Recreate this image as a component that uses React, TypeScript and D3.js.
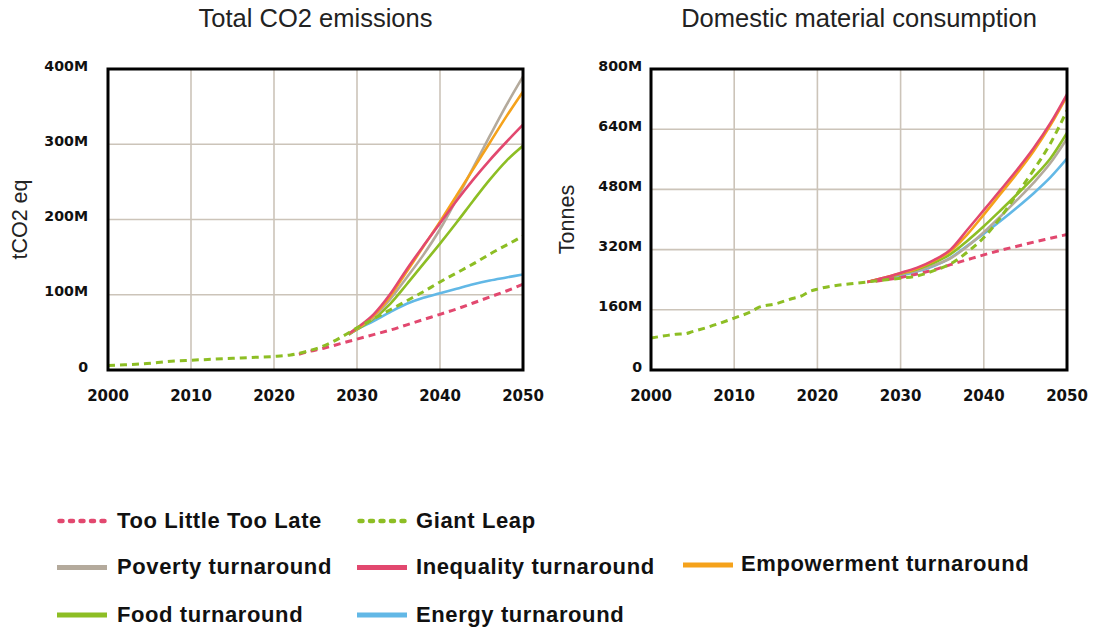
import React from "react";
import * as d3 from "d3";

// ---------- DATA ----------
const xTickYears = [2000, 2010, 2020, 2030, 2040, 2050];
const co2TickValues = [0, 100, 200, 300, 400];
const co2TickLabels = ["0", "100M", "200M", "300M", "400M"];
const dmcTickValues = [0, 160, 320, 480, 640, 800];
const dmcTickLabels = ["0", "160M", "320M", "480M", "640M", "800M"];

// Total CO2 emissions (M tCO2 eq)
const co2GiantLeapYears = [2000, 2002, 2004, 2006, 2008, 2010, 2012, 2014, 2016, 2018, 2020, 2022, 2024, 2026, 2028, 2030, 2032, 2034, 2036, 2038, 2040, 2042, 2044, 2046, 2048, 2050];
const co2GiantLeap = [6, 7, 8, 10, 12, 13, 14, 15, 16, 17, 18, 20, 25, 32, 43, 56, 68, 80, 92, 104, 117, 129, 141, 154, 166, 178];
const co2TooLittleYears = [2023, 2024, 2026, 2028, 2030, 2032, 2034, 2036, 2038, 2040, 2042, 2044, 2046, 2048, 2050];
const co2TooLittle = [21, 24, 29, 35, 41, 47, 53, 60, 67, 74, 81, 89, 97, 105, 114];
const co2TurnYears = [2029, 2030, 2032, 2034, 2036, 2038, 2040, 2042, 2044, 2046, 2048, 2050];
const co2Poverty = [48, 55, 70, 94, 123, 153, 187, 227, 269, 311, 352, 390];
const co2Inequality = [48, 56, 74, 101, 134, 165, 195, 225, 253, 279, 303, 326];
const co2Empowerment = [48, 55, 72, 98, 131, 164, 197, 232, 267, 302, 337, 370];
const co2Food = [47, 54, 68, 88, 114, 141, 168, 196, 225, 253, 278, 298];
const co2Energy = [47, 54, 65, 77, 88, 96, 102, 108, 114, 119, 123, 127];

// Domestic material consumption (M tonnes)
const dmcGiantLeapYears = [2000, 2002, 2003, 2004, 2005, 2007, 2010, 2012, 2013, 2015, 2017, 2018, 2019, 2020, 2022, 2024, 2026, 2028, 2030, 2032, 2034, 2036, 2038, 2040, 2042, 2044, 2046, 2048, 2050];
const dmcGiantLeap = [85, 92, 95, 96, 102, 115, 138, 155, 167, 176, 190, 196, 208, 215, 224, 229, 234, 239, 244, 250, 264, 282, 313, 352, 405, 468, 532, 602, 690];
const dmcTooLittleYears = [2027, 2028, 2030, 2032, 2034, 2036, 2038, 2040, 2042, 2044, 2046, 2048, 2050];
const dmcTooLittle = [236, 239, 246, 255, 266, 280, 293, 306, 318, 329, 340, 350, 360];
const dmcTurnYears = [2026, 2028, 2030, 2032, 2034, 2036, 2038, 2040, 2042, 2044, 2046, 2048, 2050];
const dmcPoverty = [234, 243, 254, 264, 278, 297, 328, 366, 408, 452, 498, 550, 615];
const dmcInequality = [234, 245, 258, 272, 292, 320, 372, 425, 478, 532, 590, 656, 733];
const dmcEmpowerment = [234, 245, 257, 270, 290, 316, 360, 413, 468, 523, 582, 650, 728];
const dmcFood = [234, 244, 256, 268, 285, 308, 343, 382, 424, 467, 512, 562, 630];
const dmcEnergy = [234, 242, 251, 262, 276, 298, 330, 362, 396, 432, 470, 512, 562];

const scenarioNames = [
  "Too Little Too Late",
  "Giant Leap",
  "Poverty turnaround",
  "Inequality turnaround",
  "Empowerment turnaround",
  "Food turnaround",
  "Energy turnaround",
];

// ---------- STYLES ----------
const COLORS: Record<string, string> = {
  "Too Little Too Late": "#E2486F",
  "Giant Leap": "#8DBE24",
  "Poverty turnaround": "#B4AA9C",
  "Inequality turnaround": "#E2486F",
  "Empowerment turnaround": "#F5A21B",
  "Food turnaround": "#8DBE24",
  "Energy turnaround": "#62B8E6",
};
const DASHED = new Set(["Too Little Too Late", "Giant Leap"]);
const GRID = "#CCC4B9";
const TITLE_FONT = "'Liberation Sans', Arial, Helvetica, sans-serif";
const TICK_FONT = "'DejaVu Sans', Verdana, sans-serif";

type Series = { name: string; years: number[]; values: number[] };

const co2Series: Series[] = [
  { name: "Energy turnaround", years: co2TurnYears, values: co2Energy },
  { name: "Food turnaround", years: co2TurnYears, values: co2Food },
  { name: "Poverty turnaround", years: co2TurnYears, values: co2Poverty },
  { name: "Empowerment turnaround", years: co2TurnYears, values: co2Empowerment },
  { name: "Inequality turnaround", years: co2TurnYears, values: co2Inequality },
  { name: "Too Little Too Late", years: co2TooLittleYears, values: co2TooLittle },
  { name: "Giant Leap", years: co2GiantLeapYears, values: co2GiantLeap },
];

const dmcSeries: Series[] = [
  { name: "Energy turnaround", years: dmcTurnYears, values: dmcEnergy },
  { name: "Poverty turnaround", years: dmcTurnYears, values: dmcPoverty },
  { name: "Food turnaround", years: dmcTurnYears, values: dmcFood },
  { name: "Empowerment turnaround", years: dmcTurnYears, values: dmcEmpowerment },
  { name: "Inequality turnaround", years: dmcTurnYears, values: dmcInequality },
  { name: "Too Little Too Late", years: dmcTooLittleYears, values: dmcTooLittle },
  { name: "Giant Leap", years: dmcGiantLeapYears, values: dmcGiantLeap },
];

type PanelProps = {
  left: number;
  right: number;
  top: number;
  bottom: number;
  title: string;
  yTitle: string;
  yTitleX: number;
  yLabelX: number;
  tickValues: number[];
  tickLabels: string[];
  yMax: number;
  series: Series[];
};

function Panel(p: PanelProps) {
  const x = d3.scaleLinear().domain([2000, 2050]).range([p.left, p.right]);
  const y = d3.scaleLinear().domain([0, p.yMax]).range([p.bottom, p.top]);
  const cx = (p.left + p.right) / 2;
  const cy = (p.top + p.bottom) / 2;
  const clipId = "clip-" + p.title.replace(/\W/g, "");
  return (
    <g>
      <defs>
        <clipPath id={clipId}>
          <rect x={p.left} y={p.top} width={p.right - p.left} height={p.bottom - p.top} />
        </clipPath>
      </defs>
      <text x={cx} y={27} textAnchor="middle" fontFamily={TITLE_FONT} fontSize={25.5} fill="#222">
        {p.title}
      </text>
      <text
        transform={`translate(${p.yTitleX},${cy}) rotate(-90)`}
        textAnchor="middle"
        fontFamily={TITLE_FONT}
        fontSize={21.5}
        fill="#222"
      >
        {p.yTitle}
      </text>
      {xTickYears.slice(1, -1).map((yr) => (
        <line key={"vx" + yr} x1={x(yr)} x2={x(yr)} y1={p.top} y2={p.bottom} stroke={GRID} strokeWidth={1.6} />
      ))}
      {p.tickValues.slice(1, -1).map((v) => (
        <line key={"hy" + v} x1={p.left} x2={p.right} y1={y(v)} y2={y(v)} stroke={GRID} strokeWidth={1.6} />
      ))}
      {p.tickValues.map((v, i) => (
        <text
          key={"yl" + v}
          x={p.yLabelX}
          y={y(v) + 1.5}
          textAnchor="end"
          fontFamily={TICK_FONT}
          fontWeight="bold"
          fontSize={14.2}
          fill="#111"
        >
          {p.tickLabels[i]}
        </text>
      ))}
      {xTickYears.map((yr) => (
        <text
          key={"xl" + yr}
          x={x(yr)}
          y={401}
          textAnchor="middle"
          fontFamily={TICK_FONT}
          fontWeight="bold"
          fontSize={15}
          fill="#111"
        >
          {yr}
        </text>
      ))}
      <g clipPath={`url(#${clipId})`}>
        {p.series.map((s) => {
          const pts = s.years.map((yr, i) => [yr, s.values[i]] as [number, number]);
          const line = d3
            .line<[number, number]>()
            .x((d) => x(d[0]))
            .y((d) => y(d[1]))
            .curve(d3.curveMonotoneX);
          const dashed = DASHED.has(s.name);
          return (
            <path
              key={s.name}
              d={line(pts) || ""}
              fill="none"
              stroke={COLORS[s.name]}
              strokeWidth={dashed ? 3 : 2.6}
              strokeDasharray={dashed ? "7,5" : undefined}
            />
          );
        })}
      </g>
      <rect
        x={p.left}
        y={p.top}
        width={p.right - p.left}
        height={p.bottom - p.top}
        fill="none"
        stroke="#000"
        strokeWidth={3}
      />
    </g>
  );
}

const legendLayout: { name: string; sx: number; tx: number; ly: number; ty: number }[] = [
  { name: scenarioNames[0], sx: 57, tx: 117, ly: 521, ty: 527.5 },
  { name: scenarioNames[1], sx: 357, tx: 416, ly: 521, ty: 527.5 },
  { name: scenarioNames[2], sx: 57, tx: 117, ly: 567.5, ty: 574 },
  { name: scenarioNames[3], sx: 357, tx: 416, ly: 567.5, ty: 574 },
  { name: scenarioNames[4], sx: 683, tx: 741, ly: 565, ty: 571 },
  { name: scenarioNames[5], sx: 57, tx: 117, ly: 615, ty: 622 },
  { name: scenarioNames[6], sx: 357, tx: 416, ly: 615, ty: 622 },
];

export default function App() {
  return (
    <svg
      width={1093}
      height={631}
      viewBox="0 0 1093 631"
      style={{ position: "absolute", left: 0, top: 0, background: "#fff" }}
    >
      <rect x={0} y={0} width={1093} height={631} fill="#fff" />
      <Panel
        left={108}
        right={523}
        top={69}
        bottom={370}
        title="Total CO2 emissions"
        yTitle="tCO2 eq"
        yTitleX={27}
        yLabelX={88}
        tickValues={co2TickValues}
        tickLabels={co2TickLabels}
        yMax={400}
        series={co2Series}
      />
      <Panel
        left={651}
        right={1067}
        top={69}
        bottom={370}
        title="Domestic material consumption"
        yTitle="Tonnes"
        yTitleX={574}
        yLabelX={642}
        tickValues={dmcTickValues}
        tickLabels={dmcTickLabels}
        yMax={800}
        series={dmcSeries}
      />
      {legendLayout.map((l) => {
        const dashed = DASHED.has(l.name);
        return (
          <g key={l.name}>
            <line
              x1={dashed ? l.sx + 2.5 : l.sx}
              x2={l.sx + 50}
              y1={l.ly}
              y2={l.ly}
              stroke={COLORS[l.name]}
              strokeWidth={dashed ? 4.5 : 5}
              strokeLinecap={dashed ? "round" : "butt"}
              strokeDasharray={dashed ? "3,7.5" : undefined}
            />
            <text
              x={l.tx}
              y={l.ty}
              fontFamily={TITLE_FONT}
              fontWeight="bold"
              fontSize={22}
              letterSpacing={0.6}
              fill="#111"
            >
              {l.name}
            </text>
          </g>
        );
      })}
    </svg>
  );
}
